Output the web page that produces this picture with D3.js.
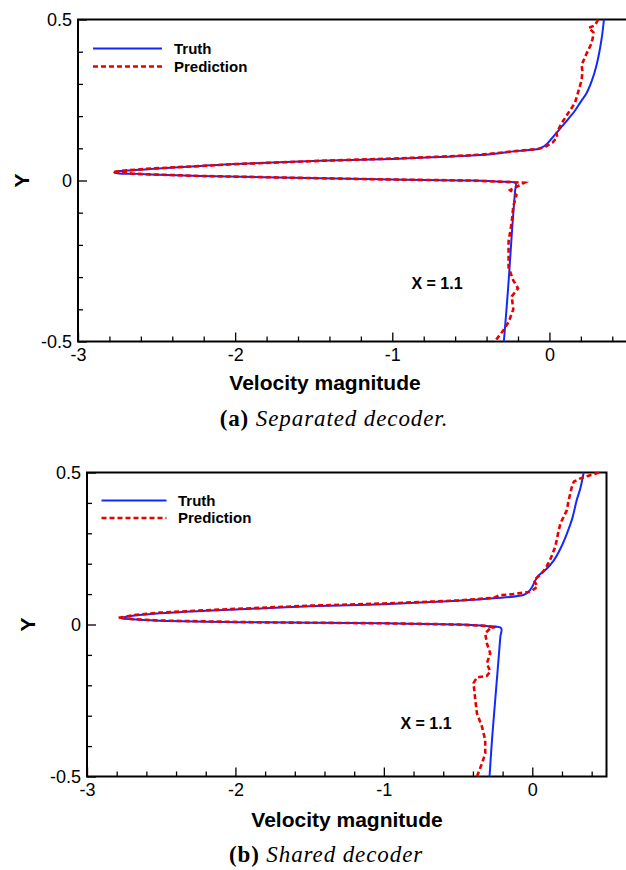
<!DOCTYPE html>
<html>
<head>
<meta charset="utf-8">
<script src="https://cdn.jsdelivr.net/npm/d3@7"></script>
<style>
  body { margin: 0; background: #fff; }
  svg { display: block; }
</style>
</head>
<body>
<svg id="fig" width="626" height="870"></svg>
<script>
// Axis ticks and labels
const xMajorTicks = [-3, -2, -1, 0];
const xMinorTicks = [-2.8, -2.6, -2.4, -2.2, -1.8, -1.6, -1.4, -1.2, -0.8, -0.6, -0.4, -0.2, 0.2, 0.4];
const yMajorTicks = [-0.5, 0, 0.5];
const yMinorTicks = [-0.4, -0.3, -0.2, -0.1, 0.1, 0.2, 0.3, 0.4];
const legendLabels = ["Truth", "Prediction"];
const stationLabel = "X = 1.1";
const xTitle = "Velocity magnitude";
const yTitle = "Y";
const captionTags = ["(a)", "(b)"];
const captionTexts = ["Separated decoder.", "Shared decoder"];

// Profiles as [velocity magnitude, Y], ordered along the curve
const truthSeparated = [
  [0.347, 0.50], [0.335, 0.45], [0.318, 0.40], [0.298, 0.355], [0.27, 0.31], [0.235, 0.27],
  [0.20, 0.245], [0.16, 0.215], [0.118, 0.19], [0.078, 0.167], [0.04, 0.145], [0.01, 0.128],
  [-0.02, 0.112], [-0.05, 0.102], [-0.071, 0.098], [-0.2, 0.092], [-0.44, 0.079], [-0.7, 0.073],
  [-1.0, 0.067], [-1.46, 0.061], [-2.0, 0.051], [-2.22, 0.045], [-2.54, 0.036], [-2.66, 0.032],
  [-2.75, 0.028], [-2.77, 0.025], [-2.74, 0.022], [-2.65, 0.021], [-2.54, 0.019], [-2.22, 0.014],
  [-1.46, 0.007], [-1.0, 0.003], [-0.5, 0.0], [-0.3, -0.004], [-0.215, -0.008], [-0.218, -0.03],
  [-0.225, -0.07], [-0.24, -0.17], [-0.255, -0.28], [-0.27, -0.38], [-0.29, -0.5]
];
const predSeparated = [
  [0.31, 0.50], [0.29, 0.482], [0.25, 0.474], [0.28, 0.46], [0.275, 0.44], [0.262, 0.42],
  [0.237, 0.395], [0.205, 0.359], [0.21, 0.338], [0.205, 0.312], [0.18, 0.27], [0.162, 0.24],
  [0.12, 0.21], [0.078, 0.178], [0.045, 0.147], [0.05, 0.135], [0.02, 0.118], [-0.03, 0.104],
  [-0.075, 0.098], [-0.2, 0.092], [-0.44, 0.08], [-0.7, 0.074], [-1.0, 0.068], [-1.46, 0.061],
  [-2.0, 0.051], [-2.22, 0.045], [-2.54, 0.037], [-2.7, 0.031], [-2.78, 0.026], [-2.7, 0.024],
  [-2.65, 0.021], [-2.54, 0.019], [-2.22, 0.014], [-1.46, 0.007], [-1.0, 0.003], [-0.5, 0.0],
  [-0.3, -0.004], [-0.16, -0.007], [-0.25, -0.03], [-0.21, -0.045], [-0.23, -0.08], [-0.24, -0.13],
  [-0.26, -0.19], [-0.26, -0.27], [-0.23, -0.31], [-0.20, -0.335], [-0.24, -0.36], [-0.23, -0.40],
  [-0.26, -0.44], [-0.30, -0.47], [-0.34, -0.495], [-0.35, -0.5]
];
const truthShared = [
  [0.346, 0.50], [0.325, 0.45], [0.30, 0.41], [0.27, 0.35], [0.234, 0.30], [0.19, 0.25],
  [0.144, 0.21], [0.09, 0.18], [0.04, 0.16], [0.015, 0.14], [0.0, 0.124], [-0.03, 0.105],
  [-0.06, 0.097], [-0.26, 0.086], [-0.5, 0.078], [-1.0, 0.067], [-1.5, 0.06], [-1.83, 0.053],
  [-2.2, 0.045], [-2.51, 0.037], [-2.65, 0.031], [-2.74, 0.025], [-2.77, 0.021], [-2.7, 0.017],
  [-2.51, 0.0125], [-1.83, 0.007], [-1.0, 0.004], [-0.5, 0.0], [-0.31, -0.005], [-0.21, -0.012],
  [-0.215, -0.04], [-0.23, -0.13], [-0.25, -0.25], [-0.27, -0.37], [-0.288, -0.5]
];
const predShared = [
  [0.45, 0.50], [0.43, 0.497], [0.37, 0.488], [0.32, 0.48], [0.28, 0.47], [0.265, 0.45],
  [0.256, 0.43], [0.243, 0.405], [0.234, 0.377], [0.19, 0.333], [0.176, 0.305], [0.155, 0.256],
  [0.12, 0.212], [0.09, 0.185], [0.054, 0.163], [0.01, 0.146], [0.035, 0.125], [-0.01, 0.108],
  [-0.13, 0.1], [-0.22, 0.096], [-0.26, 0.088], [-0.5, 0.079], [-1.0, 0.069], [-1.5, 0.062],
  [-1.83, 0.055], [-2.2, 0.047], [-2.51, 0.039], [-2.68, 0.031], [-2.79, 0.022], [-2.7, 0.018],
  [-2.51, 0.013], [-1.83, 0.007], [-1.0, 0.004], [-0.5, 0.0], [-0.3, -0.005], [-0.265, -0.01],
  [-0.283, -0.0125], [-0.317, -0.029], [-0.306, -0.062], [-0.283, -0.095], [-0.306, -0.128],
  [-0.283, -0.155], [-0.306, -0.169], [-0.373, -0.174], [-0.396, -0.193], [-0.384, -0.248],
  [-0.373, -0.292], [-0.339, -0.336], [-0.317, -0.38], [-0.317, -0.424], [-0.339, -0.457],
  [-0.369, -0.495], [-0.37, -0.5]
];

const TRUTH_COLOR = "#1428ff";
const PRED_COLOR = "#e80000";
const SANS = "'Liberation Sans', Arial, Helvetica, sans-serif";
const SERIF = "'Liberation Serif', 'Times New Roman', serif";

// Frame geometry for the two panels
const panels = [
  {
    id: "a", truth: truthSeparated, pred: predSeparated,
    left: 78, right: 628, top: 19.5, bottom: 341.5,
    legend: { x0: 15, x1: 84, tx: 96, y0: 29, y1: 47 },
    station: { x: 437, y: 283 },
    yTitleX: 22, xTitleX: 325, xTitleY: 390,
    captionX: 334, captionY: 426, tag: captionTags[0], caption: captionTexts[0]
  },
  {
    id: "b", truth: truthShared, pred: predShared,
    left: 87, right: 606.5, top: 472.5, bottom: 776.5,
    legend: { x0: 14.5, x1: 79.5, tx: 91, y0: 28, y1: 45.5 },
    station: { x: 426, y: 723 },
    yTitleX: 28, xTitleX: 347, xTitleY: 827,
    captionX: 326, captionY: 862, tag: captionTags[1], caption: captionTexts[1]
  }
];

const svg = d3.select("#fig");
svg.append("rect").attr("width", 626).attr("height", 870).attr("fill", "#fff");

const fmt = d => String(d);

panels.forEach(p => {
  const x = d3.scaleLinear().domain([-3, 0.5]).range([p.left, p.right]);
  const y = d3.scaleLinear().domain([-0.5, 0.5]).range([p.bottom, p.top]);
  const g = svg.append("g").attr("class", "panel-" + p.id);

  const clipId = "clip-" + p.id;
  svg.append("defs").append("clipPath").attr("id", clipId)
    .append("rect")
    .attr("x", p.left).attr("y", p.top - 1)
    .attr("width", p.right - p.left).attr("height", p.bottom - p.top + 2);

  // Minor and major ticks, drawn inward
  const axX = g.append("g").attr("transform", `translate(0,${p.bottom})`);
  axX.call(d3.axisBottom(x).tickValues(xMinorTicks).tickSize(-5).tickFormat(""));
  const axXMaj = g.append("g").attr("transform", `translate(0,${p.bottom})`);
  axXMaj.call(d3.axisBottom(x).tickValues(xMajorTicks).tickSize(-9).tickFormat(fmt));

  const axY = g.append("g").attr("transform", `translate(${p.left},0)`);
  axY.call(d3.axisLeft(y).tickValues(yMinorTicks).tickSize(-5).tickFormat(""));
  const axYMaj = g.append("g").attr("transform", `translate(${p.left},0)`);
  axYMaj.call(d3.axisLeft(y).tickValues(yMajorTicks).tickSize(-9).tickFormat(fmt));

  g.selectAll(".domain").remove();
  g.selectAll(".tick line").attr("stroke", "#000").attr("stroke-width", 1.3);
  g.selectAll(".tick text")
    .attr("fill", "#000")
    .style("font-family", SANS)
    .style("font-size", "18px");
  axXMaj.selectAll(".tick text").attr("dy", "0.71em").attr("y", 7);
  axYMaj.selectAll(".tick text").attr("x", -6);

  // Frame
  g.append("rect")
    .attr("x", p.left).attr("y", p.top)
    .attr("width", p.right - p.left).attr("height", p.bottom - p.top)
    .attr("fill", "none").attr("stroke", "#000").attr("stroke-width", 2);

  // Profiles
  const line = d3.line()
    .x(d => x(d[0])).y(d => y(d[1]))
    .curve(d3.curveCatmullRom.alpha(0.5));
  const lineJag = d3.line()
    .x(d => x(d[0])).y(d => y(d[1]))
    .curve(d3.curveLinear);

  const plot = g.append("g").attr("clip-path", `url(#${clipId})`);
  plot.append("path").datum(p.truth)
    .attr("d", line)
    .attr("fill", "none").attr("stroke", TRUTH_COLOR).attr("stroke-width", 2)
    .attr("stroke-linejoin", "round");
  plot.append("path").datum(p.pred)
    .attr("d", lineJag)
    .attr("fill", "none").attr("stroke", PRED_COLOR).attr("stroke-width", 2.6)
    .attr("stroke-dasharray", "5,3");

  // Legend
  const lg = g.append("g").attr("transform", `translate(${p.left},${p.top})`);
  lg.append("line")
    .attr("x1", p.legend.x0).attr("x2", p.legend.x1)
    .attr("y1", p.legend.y0).attr("y2", p.legend.y0)
    .attr("stroke", TRUTH_COLOR).attr("stroke-width", 2);
  lg.append("line")
    .attr("x1", p.legend.x0).attr("x2", p.legend.x1)
    .attr("y1", p.legend.y1).attr("y2", p.legend.y1)
    .attr("stroke", PRED_COLOR).attr("stroke-width", 2.6)
    .attr("stroke-dasharray", "5,3");
  [p.legend.y0, p.legend.y1].forEach((ly, i) => {
    lg.append("text")
      .attr("x", p.legend.tx).attr("y", ly)
      .attr("dy", "0.35em")
      .style("font-family", SANS).style("font-size", "15px").style("font-weight", "bold")
      .text(legendLabels[i]);
  });

  // Station label
  g.append("text")
    .attr("x", p.station.x).attr("y", p.station.y)
    .attr("dy", "0.35em").attr("text-anchor", "middle")
    .style("font-family", SANS).style("font-size", "16px").style("font-weight", "bold")
    .text(stationLabel);

  // Axis titles
  g.append("text")
    .attr("transform", `translate(${p.yTitleX},${y(0)}) rotate(-90)`)
    .attr("text-anchor", "middle").attr("dy", "0.35em")
    .style("font-family", SANS).style("font-size", "21px").style("font-weight", "bold")
    .text(yTitle);
  g.append("text")
    .attr("x", p.xTitleX).attr("y", p.xTitleY)
    .attr("text-anchor", "middle")
    .style("font-family", SANS).style("font-size", "21px").style("font-weight", "bold")
    .text(xTitle);

  // Sub-figure caption
  const cap = g.append("text")
    .attr("x", p.captionX).attr("y", p.captionY)
    .attr("text-anchor", "middle")
    .style("font-family", SERIF).style("font-size", "23px")
    .style("letter-spacing", "0.9px");
  cap.append("tspan").style("font-weight", "bold").text(p.tag);
  cap.append("tspan").style("font-style", "italic").text("\u00a0" + p.caption);
});
</script>
</body>
</html>
